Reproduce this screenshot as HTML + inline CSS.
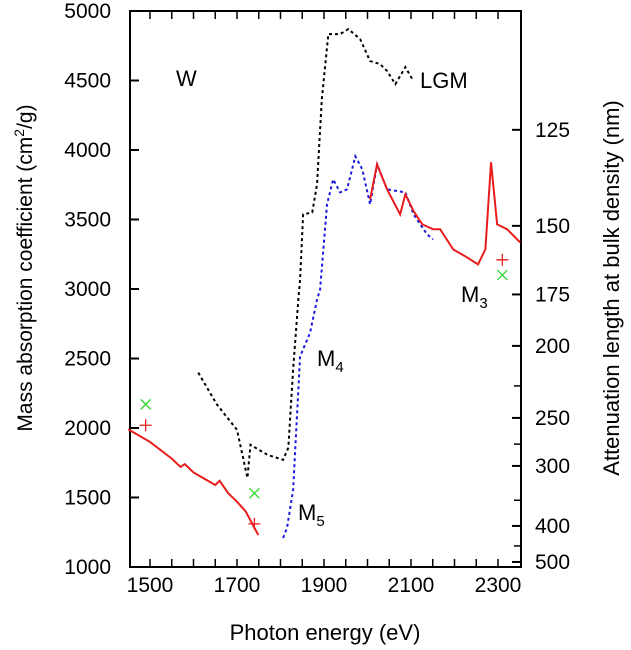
<!DOCTYPE html>
<html><head><meta charset="utf-8"><style>
body{margin:0;background:#fff;width:631px;height:645px;overflow:hidden}
svg{font-family:"Liberation Sans",sans-serif}
</style></head><body>
<svg id="chart" width="631" height="645" viewBox="0 0 631 645">
<g id="axes"></g><g id="series"></g><g id="marks"></g>
<text x="176" y="86" font-size="22">W</text>
<text x="420" y="88" font-size="22">LGM</text>
<text x="461" y="302" font-size="22">M<tspan font-size="15" dy="6">3</tspan></text>
<text x="317" y="366" font-size="22">M<tspan font-size="15" dy="6">4</tspan></text>
<text x="298" y="520" font-size="22">M<tspan font-size="15" dy="6">5</tspan></text>
<text x="325" y="640" font-size="22" text-anchor="middle">Photon energy (eV)</text>
<text transform="translate(32,268) rotate(-90)" font-size="21" text-anchor="middle">Mass absorption coefficient (cm<tspan font-size="14" dy="-8">2</tspan><tspan dy="8">/g)</tspan></text>
<text transform="translate(619,288) rotate(-90)" font-size="22" text-anchor="middle">Attenuation length at bulk density (nm)</text>
</svg>
<script>
const xTicks=[1500,1700,1900,2100,2300];
const yTicks=[1000,1500,2000,2500,3000,3500,4000,4500,5000];
const rTicks=[125,150,175,200,250,300,400,500];
const rMinor=[225,275,350,450];
const redLowE=[1450,1500,1550,1570,1580,1600,1650,1660,1680,1700,1720,1749];
const redLowMu=[1990,1900,1780,1720,1740,1680,1590,1620,1530,1470,1400,1230];
const redHighE=[2006,2022,2045,2075,2087,2106,2126,2151,2167,2197,2229,2254,2271,2284,2298,2321,2351];
const redHighMu=[3645,3897,3717,3537,3681,3560,3465,3430,3430,3285,3227,3177,3285,3912,3465,3430,3335];
const blueE=[1806,1815,1829,1845,1868,1884,1891,1907,1921,1937,1953,1972,1988,2006,2022,2045,2087,2106,2137,2151];
const blueMu=[1209,1281,1555,2514,2686,2924,2996,3609,3789,3695,3717,3955,3861,3609,3897,3717,3695,3537,3393,3357];
const blackE=[1611,1654,1700,1724,1731,1770,1806,1818,1829,1841,1845,1852,1873,1884,1895,1910,1937,1956,1983,2006,2029,2045,2064,2087,2103];
const blackMu=[2398,2168,1987,1641,1879,1807,1771,1858,2420,2924,3068,3537,3551,3753,4366,4834,4834,4870,4798,4640,4618,4568,4474,4596,4510];
const plusE=[1490,1740,2310], plusMu=[2020,1310,3210];
const crossE=[1490,1740,2310], crossMu=[2170,1530,3100];

const L=130,R=521,T=11,B=567;
const X=e=>150+(e-1500)*348/800;
const Y=m=>B-(m-1000)*(B-T)/4000;
const RY=l=>Y(1e7/(19.3*l));
const NS="http://www.w3.org/2000/svg";
function mk(p,tag,a){const el=document.createElementNS(NS,tag);for(const k in a)el.setAttribute(k,a[k]);p.appendChild(el);return el;}
const ax=document.getElementById('axes');
const fr=mk(ax,'rect',{x:L,y:T,width:R-L,height:B-T,fill:'none',stroke:'#000','stroke-width':2});


for(let e=1500;e<=2300;e+=50){
  const x=X(e);
  mk(ax,'line',{x1:x,y1:B,x2:x,y2:B-8,stroke:'#000','stroke-width':1.5});
  mk(ax,'line',{x1:x,y1:T,x2:x,y2:T+8,stroke:'#000','stroke-width':1.5});
}
xTicks.forEach(v=>{
  const t=mk(ax,'text',{x:X(v),y:592,'font-size':21,'text-anchor':'middle'});t.textContent=v;
  
  
});
yTicks.forEach(v=>{
  mk(ax,'line',{x1:L,y1:Y(v),x2:L+9,y2:Y(v),stroke:'#000','stroke-width':2});
  const t=mk(ax,'text',{x:111,y:Y(v)+7,'font-size':21,'text-anchor':'end'});t.textContent=v;
  
  
});
rTicks.forEach(v=>{
  mk(ax,'line',{x1:R,y1:RY(v),x2:R-9,y2:RY(v),stroke:'#000','stroke-width':2});
  const t=mk(ax,'text',{x:535,y:RY(v)+7,'font-size':21});t.textContent=v;
  
  
});
rMinor.forEach(v=>mk(ax,'line',{x1:R,y1:RY(v),x2:R-7,y2:RY(v),stroke:'#000','stroke-width':1.5}));
const sg=document.getElementById('series');
function line(E,M,col,dash,name){
  const p=mk(sg,'polyline',{points:E.map((e,i)=>X(e)+','+Y(M[i])).join(' '),fill:'none',stroke:col,'stroke-width':2,'stroke-dasharray':dash});
  
  
}
line(blackE,blackMu,'#000','3,3','lgm-series');
line(blueE,blueMu,'#1a1adf','3,3','blue-series');
line(redLowE,redLowMu,'#e81c1c','none','red-series-low');
line(redHighE,redHighMu,'#e81c1c','none','red-series-high');
const mg=document.getElementById('marks');
plusE.forEach((e,i)=>{
  const x=X(e),y=Y(plusMu[i]);
  const g=mk(mg,'path',{d:`M${x-6},${y}H${x+6}M${x},${y-6}V${y+6}`,stroke:'#e81c1c','stroke-width':1.3});
  
  
});
crossE.forEach((e,i)=>{
  const x=X(e),y=Y(crossMu[i]);
  const g=mk(mg,'path',{d:`M${x-5},${y-5}L${x+5},${y+5}M${x-5},${y+5}L${x+5},${y-5}`,stroke:'#2fd62f','stroke-width':1.3});
  
  
});
</script>
</body></html>
